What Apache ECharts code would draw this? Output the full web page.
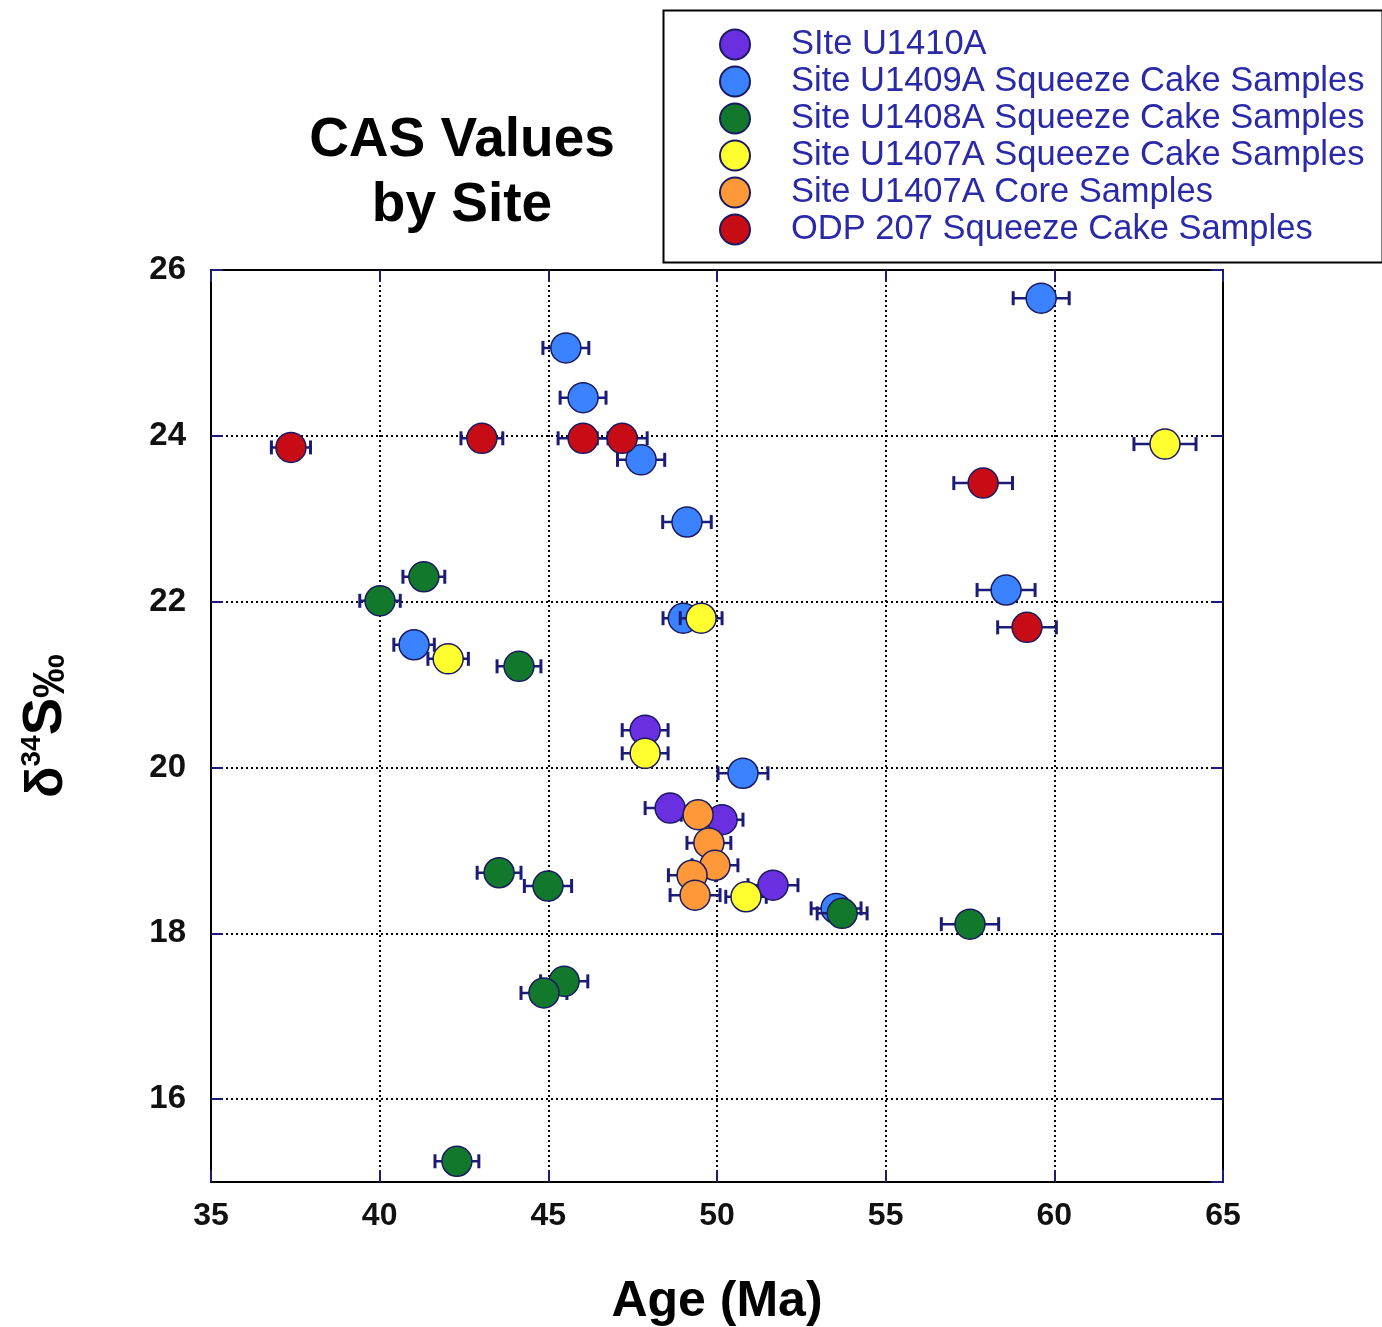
<!DOCTYPE html>
<html>
<head>
<meta charset="utf-8">
<script src="https://cdn.jsdelivr.net/npm/echarts@6/dist/echarts.min.js"></script>
<style>
html,body{margin:0;padding:0;background:#fff;}
#chart{width:1382px;height:1327px;}
</style>
</head>
<body>
<div id="chart"></div>
<script>
// ---- Data (Age Ma, delta34S permil, x error Ma) ----
const seriesNames = [
  'SIte U1410A',
  'Site U1409A Squeeze Cake Samples',
  'Site U1408A Squeeze Cake Samples',
  'Site U1407A Squeeze Cake Samples',
  'Site U1407A Core Samples',
  'ODP 207 Squeeze Cake Samples'
];

const u1410Age = [47.87, 48.61, 50.15, 51.66];
const u1410S   = [20.45, 19.51, 19.37, 18.58];
const u1410Err = [0.68, 0.74, 0.62, 0.74];

const u1409Age = [59.61, 45.52, 46.03, 47.75, 49.11, 58.57, 49.00, 41.02, 50.77, 53.53];
const u1409S   = [25.66, 25.06, 24.46, 23.71, 22.96, 22.14, 21.80, 21.48, 19.93, 18.30];
const u1409Err = [0.83, 0.68, 0.68, 0.70, 0.72, 0.86, 0.60, 0.60, 0.74, 0.74];

const u1408Age = [41.31, 40.01, 44.13, 43.54, 44.99, 53.71, 57.50, 45.47, 44.87, 42.29];
const u1408S   = [22.30, 22.01, 21.22, 18.73, 18.57, 18.24, 18.11, 17.42, 17.28, 15.25];
const u1408Err = [0.62, 0.60, 0.65, 0.65, 0.70, 0.74, 0.85, 0.70, 0.68, 0.65];

const u1407scAge = [63.28, 49.53, 42.03, 47.87, 50.86];
const u1407scS   = [23.90, 21.80, 21.31, 20.17, 18.44];
const u1407scErr = [0.92, 0.62, 0.60, 0.68, 0.60];

const u1407coreAge = [49.44, 49.76, 49.94, 49.26, 49.35];
const u1407coreS   = [19.43, 19.09, 18.82, 18.70, 18.46];
const u1407coreErr = [0.50, 0.65, 0.68, 0.70, 0.74];

const odpAge = [37.37, 43.03, 46.03, 47.19, 57.89, 59.19];
const odpS   = [23.86, 23.97, 23.97, 23.97, 23.43, 21.69];
const odpErr = [0.58, 0.62, 0.74, 0.74, 0.87, 0.87];

const xTicks = [35, 40, 45, 50, 55, 60, 65];
const yTicks = [16, 18, 20, 22, 24, 26];

// ---- Styling ----
const colors = ['#6a2fe0', '#3a82ff', '#12782c', '#ffff30', '#ff9838', '#c80c16'];
const zOrder = [3, 2, 3, 3, 3, 4];
const FONT = '"Liberation Sans", Arial, sans-serif';
const NAVY = '#1c1c78';

const groups = [
  [u1410Age, u1410S, u1410Err],
  [u1409Age, u1409S, u1409Err],
  [u1408Age, u1408S, u1408Err],
  [u1407scAge, u1407scS, u1407scErr],
  [u1407coreAge, u1407coreS, u1407coreErr],
  [odpAge, odpS, odpErr]
];

function errRender(params, api) {
  const x = api.value(0), y = api.value(1), e = api.value(2);
  const p0 = api.coord([x - e, y]);
  const p1 = api.coord([x + e, y]);
  const h = 7;
  const st = { stroke: NAVY, lineWidth: 2.5 };
  return {
    type: 'group',
    children: [
      { type: 'line', shape: { x1: p0[0], y1: p0[1], x2: p1[0], y2: p1[1] }, style: st },
      { type: 'line', shape: { x1: p0[0], y1: p0[1] - h, x2: p0[0], y2: p0[1] + h }, style: { stroke: NAVY, lineWidth: 3 } },
      { type: 'line', shape: { x1: p1[0], y1: p1[1] - h, x2: p1[0], y2: p1[1] + h }, style: { stroke: NAVY, lineWidth: 3 } }
    ]
  };
}

const series = [];
groups.forEach((g, i) => {
  const pts = g[0].map((a, k) => [a, g[1][k], g[2][k]]);
  series.push({
    type: 'custom',
    name: seriesNames[i] + ' err',
    renderItem: errRender,
    data: pts,
    encode: { x: 0, y: 1 },
    z: zOrder[i],
    silent: true
  });
  series.push({
    type: 'scatter',
    name: seriesNames[i],
    data: pts.map(p => [p[0], p[1]]),
    symbol: 'circle',
    symbolSize: 30,
    itemStyle: { color: colors[i], borderColor: '#1a1a60', borderWidth: 1.5, opacity: 1 },
    z: zOrder[i]
  });
});

const chart = echarts.init(document.getElementById('chart'), null, { renderer: 'canvas' });

const gridSplit = { show: true, lineStyle: { color: '#000', width: 2, type: [2, 3] } };

chart.setOption({
  animation: false,
  backgroundColor: '#fff',
  textStyle: { fontFamily: FONT },
  grid: { left: 211, top: 270, right: 159, bottom: 145, containLabel: false, outerBoundsMode: 'none' },
  legend: {
    data: seriesNames,
    orient: 'vertical',
    left: 719,
    top: 27,
    padding: 0,
    itemWidth: 30,
    itemHeight: 30,
    itemGap: 2,
    icon: 'circle',
    textStyle: { fontSize: 34.5, color: '#2a2aa8', fontFamily: FONT, lineHeight: 30, padding: [0, 0, 0, 36] }
  },
  graphic: [
    {
      type: 'rect',
      left: 661, top: 8,
      shape: { width: 719, height: 252 },
      style: { fill: 'none', stroke: '#000', lineWidth: 2 },
      silent: true
    },
    {
      type: 'text',
      x: 462, y: 108,
      style: {
        text: 'CAS Values\nby Site',
        textAlign: 'center',
        textVerticalAlign: 'top',
        fontSize: 55,
        fontWeight: 'bold',
        fontFamily: FONT,
        lineHeight: 65,
        fill: '#000'
      }
    }
  ],
  xAxis: [
    {
      type: 'value', min: xTicks[0], max: xTicks[xTicks.length - 1], interval: 5,
      position: 'bottom',
      name: 'Age (Ma)', nameLocation: 'middle', nameGap: 95,
      nameTextStyle: { fontSize: 50, fontWeight: 'bold', color: '#000', fontFamily: FONT },
      axisLine: { show: true, lineStyle: { color: '#000', width: 2 } },
      axisTick: { show: true, inside: true, length: 12, lineStyle: { color: NAVY, width: 2 } },
      axisLabel: { show: true, fontSize: 32, fontWeight: 'bold', color: '#111', margin: 18, fontFamily: FONT },
      splitLine: gridSplit
    },
    {
      type: 'value', min: xTicks[0], max: xTicks[xTicks.length - 1], interval: 5,
      position: 'top',
      axisLine: { show: true, lineStyle: { color: '#000', width: 2 } },
      axisTick: { show: true, inside: true, length: 12, lineStyle: { color: NAVY, width: 2 } },
      axisLabel: { show: false },
      splitLine: { show: false }
    }
  ],
  yAxis: [
    {
      type: 'value', min: 15, max: yTicks[yTicks.length - 1], splitNumber: 5,
      position: 'left',
      name: '{d|δ}{sup|34}{s|S}{pm|‰}',
      nameLocation: 'middle', nameGap: 137, nameRotate: 90,
      nameTextStyle: {
        color: '#000', fontFamily: FONT,
        rich: {
          d: { fontSize: 52, fontWeight: 'bold', fontFamily: FONT, color: '#000', verticalAlign: 'bottom' },
          sup: { fontSize: 28, fontWeight: 'bold', fontFamily: FONT, color: '#000', verticalAlign: 'top' },
          s: { fontSize: 56, fontWeight: 'bold', fontFamily: FONT, color: '#000', verticalAlign: 'bottom' },
          pm: { fontSize: 44, fontWeight: 'bold', fontFamily: FONT, color: '#000', verticalAlign: 'bottom' }
        }
      },
      axisLine: { show: true, lineStyle: { color: '#000', width: 2 } },
      axisTick: { show: true, inside: true, length: 12, lineStyle: { color: NAVY, width: 2 } },
      axisLabel: {
        show: true, fontSize: 33, fontWeight: 'bold', color: '#111', margin: 25, fontFamily: FONT,
        showMinLabel: false,
        formatter: v => (yTicks.indexOf(v) >= 0 ? String(v) : '')
      },
      splitLine: gridSplit
    },
    {
      type: 'value', min: 15, max: yTicks[yTicks.length - 1], splitNumber: 5,
      position: 'right',
      axisLine: { show: true, lineStyle: { color: '#000', width: 2 } },
      axisTick: { show: true, inside: true, length: 12, lineStyle: { color: NAVY, width: 2 } },
      axisLabel: { show: false },
      splitLine: { show: false }
    }
  ],
  series: series
});
</script>
</body>
</html>
